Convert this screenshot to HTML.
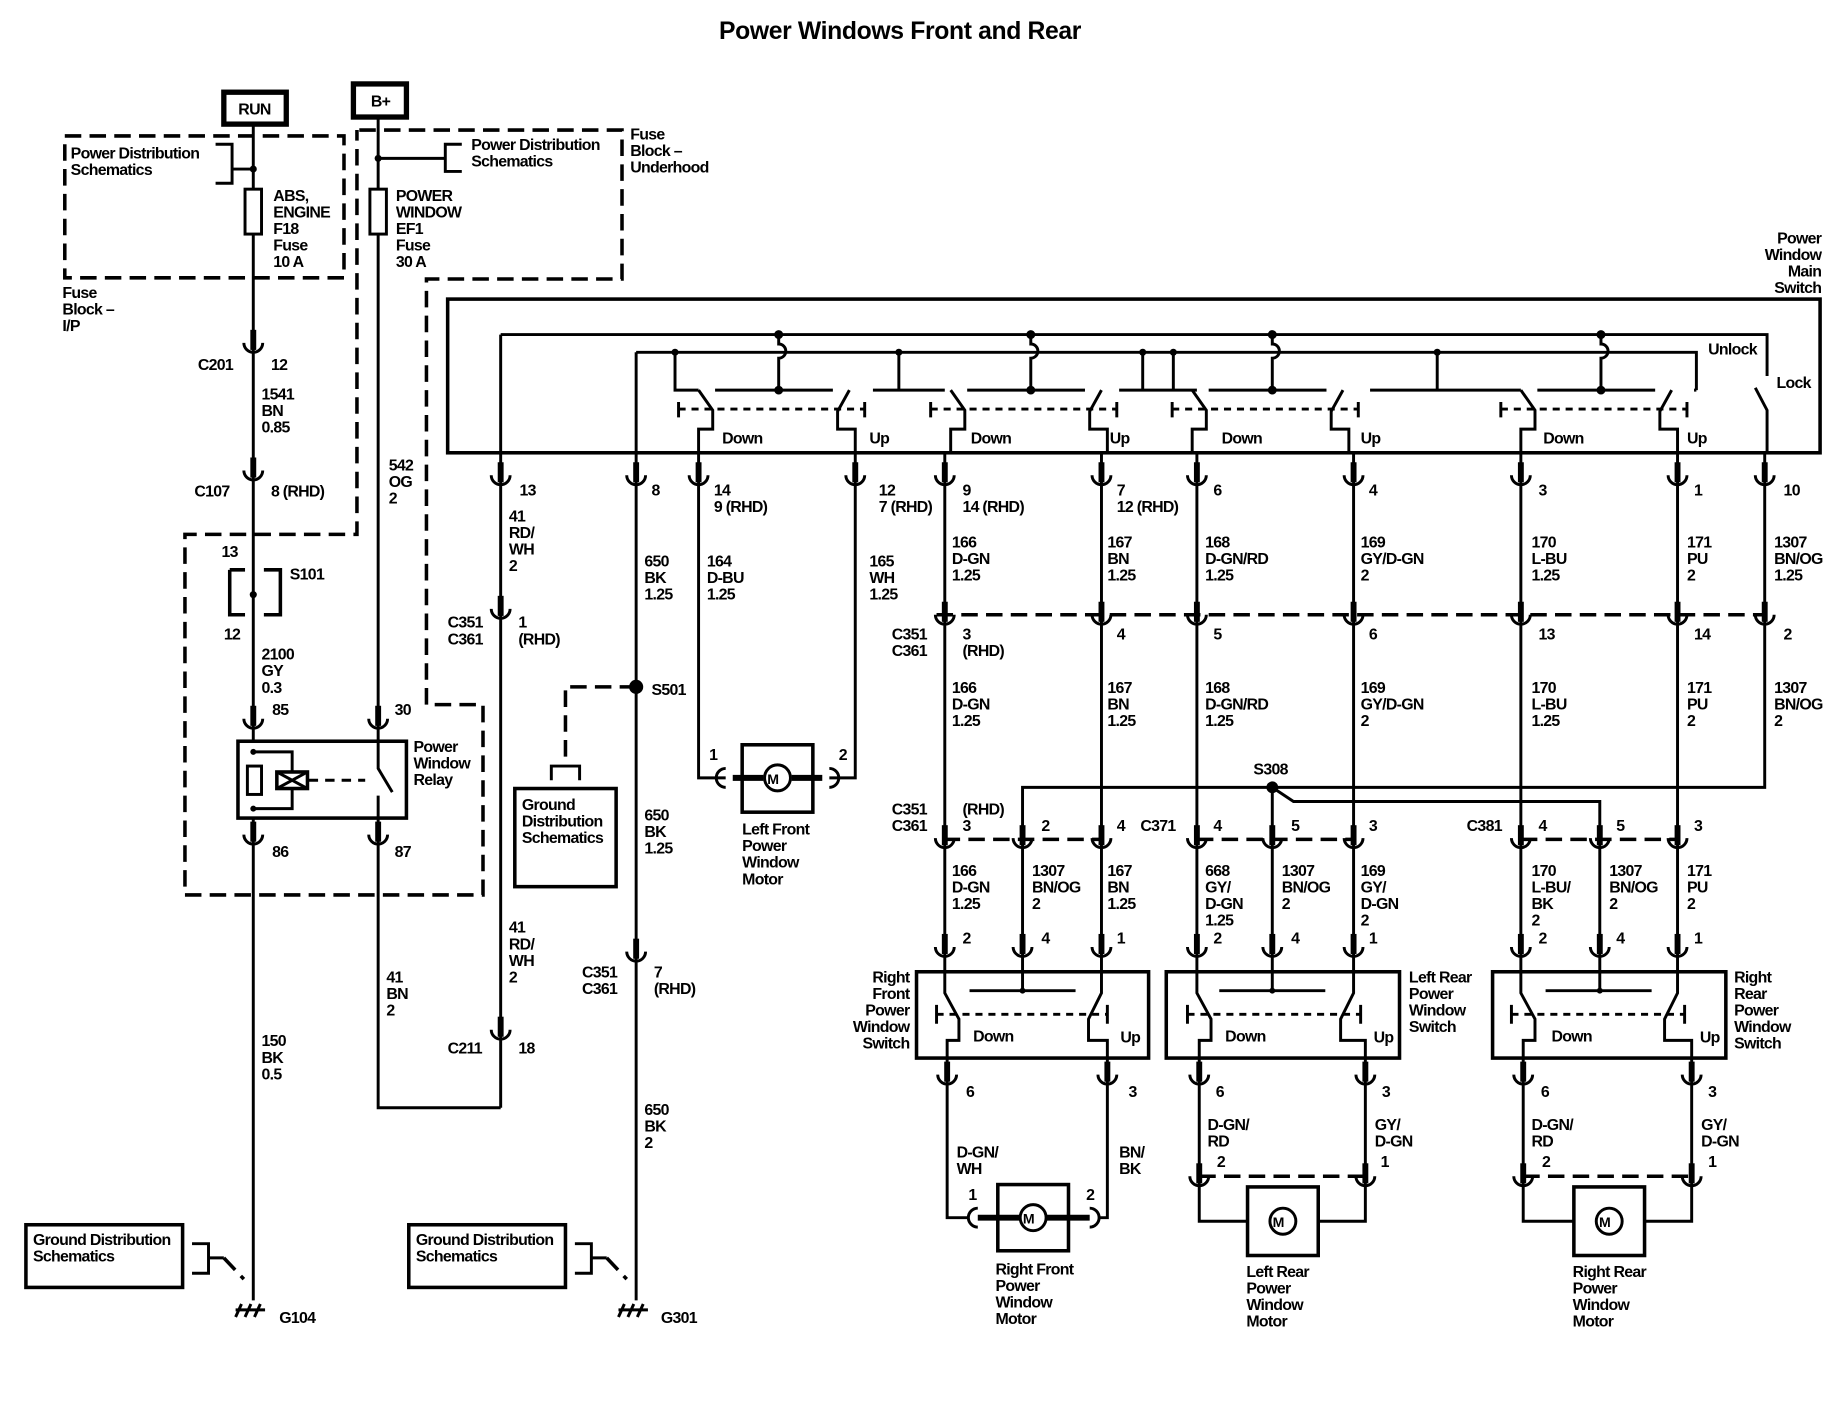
<!DOCTYPE html>
<html><head><meta charset="utf-8"><style>
html,body{margin:0;padding:0;background:#fff}
svg{display:block}
text{font-family:"Liberation Sans",Arial,sans-serif;font-size:13.5px;font-weight:bold;fill:#000;letter-spacing:-0.6px}
</style></head><body>
<svg width="1846" height="1408" viewBox="0 0 1567 1191" preserveAspectRatio="none" xmlns="http://www.w3.org/2000/svg">
<defs>
<g id="cup"><path d="M-8,-5 A8,8 0 0 0 8,-5" fill="none" stroke="#000" stroke-width="2.5"/><line x1="0" y1="-16" x2="0" y2="1" stroke="#000" stroke-width="5"/></g>
<g id="grp" fill="none" stroke="#000" stroke-width="2.5">
<path d="M0,330 L12,347 L12,363 L0,363 L0,383"/>
<path d="M14,330 L114,330"/>
<path d="M68,283 L68,291 A6,6 0 0 1 68,303 L68,330"/>
<circle cx="68" cy="283" r="2.5" fill="#000"/><circle cx="68" cy="330" r="2.5" fill="#000"/>
<path d="M128,330 L118,348 L118,363 L133,363 L133,383"/>
<path d="M-17,346 L141,346" stroke-dasharray="6 5"/>
<path d="M-17,340 V353 M141,340 V353"/>
</g>
</defs>
<rect width="1567" height="1191" fill="#fff"/>
<text x="764" y="33" text-anchor="middle" style="font-size:21px;letter-spacing:-0.3px">Power Windows  Front and Rear</text>

<g fill="none" stroke="#000" stroke-width="2.5">
<g stroke-width="3" stroke-dasharray="14 7">
<rect x="55" y="115" width="237" height="120"/>
<path d="M305,110 H528 V236 H362 V596 H410 V757 H157 V452 H303 V110"/>
<path d="M540,581 H480 V640"/>
<path d="M190,1064 L207,1082"/>
<path d="M515,1064 L532,1082"/>
<path d="M795,520 H1498"/>
<path d="M801,710 H933 M1016,710 H1148 M1291,710 H1424"/>
<path d="M1018,995 H1159 M1293,995 H1436"/>
<path d="M195,482 H208 M195,482 V520 H208 M224,482 H238 V520 H224" stroke-dasharray="none"/>
</g>
<rect x="190" y="78" width="53" height="27" stroke-width="4.5"/>
<rect x="300" y="71" width="45" height="28" stroke-width="4.5"/>
<rect x="380" y="253" width="1165" height="130" stroke-width="3"/>
<rect x="202" y="627" width="143" height="65" stroke-width="3"/>
<rect x="437" y="667" width="86" height="83" stroke-width="3"/>
<rect x="22" y="1036" width="133" height="53" stroke-width="3"/>
<rect x="347" y="1036" width="133" height="53" stroke-width="3"/>
<rect x="630" y="630" width="60" height="57" stroke-width="3"/>
<rect x="847" y="1002" width="60" height="56" stroke-width="3"/>
<rect x="1059" y="1004" width="60" height="58" stroke-width="3"/>
<rect x="1336" y="1004" width="60" height="58" stroke-width="3"/>
<rect x="778" y="822" width="197" height="73" stroke-width="3"/>
<rect x="990" y="822" width="198" height="73" stroke-width="3"/>
<rect x="1267" y="822" width="198" height="73" stroke-width="3"/>
<path d="M215,105 V627 M215,692 V1100"/>
<path d="M183,122 H197 V155 H183 M197,143 H215"/>
<rect x="208" y="160" width="14" height="38" fill="#fff"/>
<path d="M321,99 V627 M321,692 V937 H425"/>
<path d="M321,134 H378 M392,122 H378 V145 H392"/>
<rect x="314" y="160" width="14" height="38" fill="#fff"/>
<path d="M215,636 H248 V653 M215,684 H248 V667"/>
<rect x="210" y="648" width="12" height="24" fill="#fff"/>
<rect x="235" y="653" width="26" height="14" stroke-width="3"/>
<path d="M235,653 L261,667 M261,653 L235,667"/>
<path d="M262,660 H310" stroke-dasharray="8 6"/>
<path d="M321,627 V650 L333,670 M321,673 V692"/>
<path d="M163,1052 H177 V1077 H163 M177,1064 H190"/>
<path d="M488,1052 H502 V1077 H488 M502,1064 H515"/>
<path d="M200,1108 L225,1108 M200,1114 L205,1103 M208,1114 L213,1103 M216,1114 L221,1103"/>
<path d="M525,1108 L550,1108 M525,1114 L530,1103 M533,1114 L538,1103 M541,1114 L546,1103"/>
<path d="M468,660 V648 H492 V660"/>
<path d="M425,283 V937"/>
<path d="M540,298 V1100"/>
<path d="M593,383 V658 H616"/>
<path d="M726,383 V658 H704"/>
<path d="M802,383 V822 M935,383 V822 M1016,383 V822 M1149,383 V822 M1291,383 V822 M1424,383 V822"/>
<path d="M1498,383 V666 H868 V822"/>
<path d="M1080,666 V822 M1080,666 L1098,678 H1358 V822"/>
<path d="M425,283 H1500 V318 M1490,328 L1500,347 V383"/>
<path d="M540,298 H1440 V330"/>
<path d="M573,298 V330 H593"/>
<path d="M741,330 H802 M763,298 V330"/>
<path d="M950,330 H1016 M970,298 V330 M996,298 V330"/>
<path d="M1163,330 H1291 M1220,298 V330"/>
<path d="M1438,330 H1440"/>
<path d="M802,822 V840 L814,862 V880 H804 V895 M868,822 V838 M823,838 H913 M935,822 V840 L924,862 V880 H940 V895"/>
<path d="M1016,822 V840 L1028,862 V880 H1018 V895 M1080,822 V838 M1035,838 H1125 M1149,822 V840 L1138,862 V880 H1159 V895"/>
<path d="M1291,822 V840 L1303,862 V880 H1293 V895 M1358,822 V838 M1312,838 H1402 M1424,822 V840 L1413,862 V880 H1436 V895"/>
<g stroke-dasharray="6 5"><path d="M795,858 H940 M1008,858 H1155 M1283,858 H1430"/></g>
<path d="M795,850 V866 M940,850 V866 M1008,850 V866 M1155,850 V866 M1283,850 V866 M1430,850 V866"/>
<path d="M804,895 V1030 H822 M940,895 V1030 H932"/>
<path d="M1018,895 V1033 H1059 M1159,895 V1033 H1119"/>
<path d="M1293,895 V1033 H1336 M1436,895 V1033 H1396"/>
<path d="M622,658 H648 M672,658 H698" stroke-width="5"/>
<path d="M830,1030 H866 M888,1030 H925" stroke-width="5"/>
<path d="M616,650 A8,8 0 0 0 616,666 M704,650 A8,8 0 0 1 704,666"/>
<path d="M830,1022 A8,8 0 0 0 830,1038 M925,1022 A8,8 0 0 1 925,1038"/>
<circle cx="660" cy="658" r="11" fill="#fff"/>
<circle cx="877" cy="1030" r="11" fill="#fff"/>
<circle cx="1089" cy="1033" r="11" fill="#fff"/>
<circle cx="1366" cy="1033" r="11" fill="#fff"/>
</g>
<use href="#grp" x="593"/><use href="#grp" x="807"/><use href="#grp" x="1012"/><use href="#grp" x="1291"/>
<g fill="#000"><circle cx="215" cy="143" r="3"/><circle cx="321" cy="134" r="3"/><circle cx="215" cy="503" r="3"/><circle cx="540" cy="581" r="6"/><circle cx="1080" cy="666" r="5"/>
<circle cx="573" cy="298" r="3"/><circle cx="763" cy="298" r="3"/><circle cx="970" cy="298" r="3"/><circle cx="996" cy="298" r="3"/><circle cx="1220" cy="298" r="3"/><circle cx="215" cy="636" r="2.5"/><circle cx="215" cy="684" r="2.5"/><circle cx="868" cy="838" r="2.5"/><circle cx="1080" cy="838" r="2.5"/><circle cx="1358" cy="838" r="2.5"/></g>
<use href="#cup" x="215" y="295"/><use href="#cup" x="215" y="403"/><use href="#cup" x="215" y="613"/><use href="#cup" x="321" y="613"/><use href="#cup" x="215" y="711"/><use href="#cup" x="321" y="711"/>
<use href="#cup" x="425" y="407"/><use href="#cup" x="540" y="407"/><use href="#cup" x="593" y="407"/><use href="#cup" x="726" y="407"/><use href="#cup" x="802" y="407"/><use href="#cup" x="935" y="407"/><use href="#cup" x="1016" y="407"/><use href="#cup" x="1149" y="407"/><use href="#cup" x="1291" y="407"/><use href="#cup" x="1424" y="407"/><use href="#cup" x="1498" y="407"/>
<use href="#cup" x="425" y="520"/><use href="#cup" x="425" y="876"/><use href="#cup" x="540" y="810"/>
<use href="#cup" x="802" y="525"/><use href="#cup" x="935" y="525"/><use href="#cup" x="1016" y="525"/><use href="#cup" x="1149" y="525"/><use href="#cup" x="1291" y="525"/><use href="#cup" x="1424" y="525"/><use href="#cup" x="1498" y="525"/>
<use href="#cup" x="802" y="714"/><use href="#cup" x="868" y="714"/><use href="#cup" x="935" y="714"/><use href="#cup" x="1016" y="714"/><use href="#cup" x="1080" y="714"/><use href="#cup" x="1149" y="714"/><use href="#cup" x="1291" y="714"/><use href="#cup" x="1358" y="714"/><use href="#cup" x="1424" y="714"/>
<use href="#cup" x="802" y="806"/><use href="#cup" x="868" y="806"/><use href="#cup" x="935" y="806"/><use href="#cup" x="1016" y="806"/><use href="#cup" x="1080" y="806"/><use href="#cup" x="1149" y="806"/><use href="#cup" x="1291" y="806"/><use href="#cup" x="1358" y="806"/><use href="#cup" x="1424" y="806"/>
<use href="#cup" x="804" y="914"/><use href="#cup" x="940" y="914"/><use href="#cup" x="1018" y="914"/><use href="#cup" x="1159" y="914"/><use href="#cup" x="1293" y="914"/><use href="#cup" x="1436" y="914"/>
<use href="#cup" x="1018" y="1000"/><use href="#cup" x="1159" y="1000"/><use href="#cup" x="1293" y="1000"/><use href="#cup" x="1436" y="1000"/>

<text x="216" y="97" text-anchor="middle">RUN</text>
<text x="323" y="90" text-anchor="middle">B+</text>
<text x="60" y="134">Power Distribution</text><text x="60" y="148">Schematics</text>
<text x="232" y="170">ABS,</text><text x="232" y="184">ENGINE</text><text x="232" y="198">F18</text><text x="232" y="212">Fuse</text><text x="232" y="226">10 A</text>
<text x="53" y="252">Fuse</text><text x="53" y="266">Block –</text><text x="53" y="280">I/P</text>
<text x="400" y="127">Power Distribution</text><text x="400" y="141">Schematics</text>
<text x="535" y="118">Fuse</text><text x="535" y="132">Block –</text><text x="535" y="146">Underhood</text>
<text x="336" y="170">POWER</text><text x="336" y="184">WINDOW</text><text x="336" y="198">EF1</text><text x="336" y="212">Fuse</text><text x="336" y="226">30 A</text>
<text x="168" y="313">C201</text><text x="230" y="313">12</text>
<text x="222" y="338">1541</text><text x="222" y="352">BN</text><text x="222" y="366">0.85</text>
<text x="165" y="420">C107</text><text x="230" y="420">8 (RHD)</text>
<text x="330" y="398">542</text><text x="330" y="412">OG</text><text x="330" y="426">2</text>
<text x="188" y="471">13</text><text x="246" y="490">S101</text><text x="190" y="541">12</text>
<text x="222" y="558">2100</text><text x="222" y="572">GY</text><text x="222" y="586">0.3</text>
<text x="231" y="605">85</text><text x="335" y="605">30</text>
<text x="351" y="636">Power</text><text x="351" y="650">Window</text><text x="351" y="664">Relay</text>
<text x="231" y="725">86</text><text x="335" y="725">87</text>
<text x="222" y="885">150</text><text x="222" y="899">BK</text><text x="222" y="913">0.5</text>
<text x="28" y="1053">Ground Distribution</text><text x="28" y="1067">Schematics</text>
<text x="237" y="1119">G104</text>
<text x="353" y="1053">Ground Distribution</text><text x="353" y="1067">Schematics</text>
<text x="561" y="1119">G301</text>
<text x="328" y="831">41</text><text x="328" y="845">BN</text><text x="328" y="859">2</text>
<text x="441" y="419">13</text>
<text x="432" y="441">41</text><text x="432" y="455">RD/</text><text x="432" y="469">WH</text><text x="432" y="483">2</text>
<text x="380" y="531">C351</text><text x="380" y="545">C361</text><text x="440" y="531">1</text><text x="440" y="545">(RHD)</text>
<text x="432" y="789">41</text><text x="432" y="803">RD/</text><text x="432" y="817">WH</text><text x="432" y="831">2</text>
<text x="380" y="891">C211</text><text x="440" y="891">18</text>
<text x="553" y="419">8</text>
<text x="547" y="479">650</text><text x="547" y="493">BK</text><text x="547" y="507">1.25</text>
<text x="553" y="588">S501</text>
<text x="443" y="685">Ground</text><text x="443" y="699">Distribution</text><text x="443" y="713">Schematics</text>
<text x="547" y="694">650</text><text x="547" y="708">BK</text><text x="547" y="722">1.25</text>
<text x="494" y="827">C351</text><text x="494" y="841">C361</text><text x="555" y="827">7</text><text x="555" y="841">(RHD)</text>
<text x="547" y="943">650</text><text x="547" y="957">BK</text><text x="547" y="971">2</text>
<text x="606" y="419">14</text><text x="606" y="433">9 (RHD)</text>
<text x="600" y="479">164</text><text x="600" y="493">D-BU</text><text x="600" y="507">1.25</text>
<text x="746" y="419">12</text><text x="746" y="433">7 (RHD)</text>
<text x="738" y="479">165</text><text x="738" y="493">WH</text><text x="738" y="507">1.25</text>
<text x="602" y="643">1</text><text x="712" y="643">2</text>
<text x="656" y="663" text-anchor="middle" style="font-size:12px">M</text>
<text x="630" y="706">Left Front</text><text x="630" y="720">Power</text><text x="630" y="734">Window</text><text x="630" y="748">Motor</text>
<text x="1546" y="206" text-anchor="end">Power</text><text x="1546" y="220" text-anchor="end">Window</text><text x="1546" y="234" text-anchor="end">Main</text><text x="1546" y="248" text-anchor="end">Switch</text>
<text x="1450" y="300">Unlock</text><text x="1508" y="328">Lock</text>
<text x="613" y="375">Down</text><text x="738" y="375">Up</text>
<text x="824" y="375">Down</text><text x="942" y="375">Up</text>
<text x="1037" y="375">Down</text><text x="1155" y="375">Up</text>
<text x="1310" y="375">Down</text><text x="1432" y="375">Up</text>
<text x="817" y="419">9</text><text x="817" y="433">14 (RHD)</text>
<text x="948" y="419">7</text><text x="948" y="433">12 (RHD)</text>
<text x="1030" y="419">6</text><text x="1162" y="419">4</text><text x="1306" y="419">3</text><text x="1438" y="419">1</text><text x="1514" y="419">10</text>
<text x="808" y="463">166</text><text x="808" y="477">D-GN</text><text x="808" y="491">1.25</text>
<text x="940" y="463">167</text><text x="940" y="477">BN</text><text x="940" y="491">1.25</text>
<text x="1023" y="463">168</text><text x="1023" y="477">D-GN/RD</text><text x="1023" y="491">1.25</text>
<text x="1155" y="463">169</text><text x="1155" y="477">GY/D-GN</text><text x="1155" y="491">2</text>
<text x="1300" y="463">170</text><text x="1300" y="477">L-BU</text><text x="1300" y="491">1.25</text>
<text x="1432" y="463">171</text><text x="1432" y="477">PU</text><text x="1432" y="491">2</text>
<text x="1506" y="463">1307</text><text x="1506" y="477">BN/OG</text><text x="1506" y="491">1.25</text>
<text x="757" y="541">C351</text><text x="757" y="555">C361</text><text x="817" y="541">3</text><text x="817" y="555">(RHD)</text>
<text x="948" y="541">4</text><text x="1030" y="541">5</text><text x="1162" y="541">6</text><text x="1306" y="541">13</text><text x="1438" y="541">14</text><text x="1514" y="541">2</text>
<text x="808" y="586">166</text><text x="808" y="600">D-GN</text><text x="808" y="614">1.25</text>
<text x="940" y="586">167</text><text x="940" y="600">BN</text><text x="940" y="614">1.25</text>
<text x="1023" y="586">168</text><text x="1023" y="600">D-GN/RD</text><text x="1023" y="614">1.25</text>
<text x="1155" y="586">169</text><text x="1155" y="600">GY/D-GN</text><text x="1155" y="614">2</text>
<text x="1300" y="586">170</text><text x="1300" y="600">L-BU</text><text x="1300" y="614">1.25</text>
<text x="1432" y="586">171</text><text x="1432" y="600">PU</text><text x="1432" y="614">2</text>
<text x="1506" y="586">1307</text><text x="1506" y="600">BN/OG</text><text x="1506" y="614">2</text>
<text x="1064" y="655">S308</text>
<text x="757" y="689">C351</text><text x="757" y="703">C361</text><text x="817" y="689">(RHD)</text><text x="817" y="703">3</text>
<text x="884" y="703">2</text><text x="948" y="703">4</text><text x="968" y="703">C371</text><text x="1030" y="703">4</text><text x="1096" y="703">5</text><text x="1162" y="703">3</text>
<text x="1245" y="703">C381</text><text x="1306" y="703">4</text><text x="1372" y="703">5</text><text x="1438" y="703">3</text>
<text x="808" y="741">166</text><text x="808" y="755">D-GN</text><text x="808" y="769">1.25</text>
<text x="876" y="741">1307</text><text x="876" y="755">BN/OG</text><text x="876" y="769">2</text>
<text x="940" y="741">167</text><text x="940" y="755">BN</text><text x="940" y="769">1.25</text>
<text x="1023" y="741">668</text><text x="1023" y="755">GY/</text><text x="1023" y="769">D-GN</text><text x="1023" y="783">1.25</text>
<text x="1088" y="741">1307</text><text x="1088" y="755">BN/OG</text><text x="1088" y="769">2</text>
<text x="1155" y="741">169</text><text x="1155" y="755">GY/</text><text x="1155" y="769">D-GN</text><text x="1155" y="783">2</text>
<text x="1300" y="741">170</text><text x="1300" y="755">L-BU/</text><text x="1300" y="769">BK</text><text x="1300" y="783">2</text>
<text x="1366" y="741">1307</text><text x="1366" y="755">BN/OG</text><text x="1366" y="769">2</text>
<text x="1432" y="741">171</text><text x="1432" y="755">PU</text><text x="1432" y="769">2</text>
<text x="817" y="798">2</text><text x="884" y="798">4</text><text x="948" y="798">1</text>
<text x="1030" y="798">2</text><text x="1096" y="798">4</text><text x="1162" y="798">1</text>
<text x="1306" y="798">2</text><text x="1372" y="798">4</text><text x="1438" y="798">1</text>
<text x="772" y="831" text-anchor="end">Right</text><text x="772" y="845" text-anchor="end">Front</text><text x="772" y="859" text-anchor="end">Power</text><text x="772" y="873" text-anchor="end">Window</text><text x="772" y="887" text-anchor="end">Switch</text>
<text x="1196" y="831">Left Rear</text><text x="1196" y="845">Power</text><text x="1196" y="859">Window</text><text x="1196" y="873">Switch</text>
<text x="1472" y="831">Right</text><text x="1472" y="845">Rear</text><text x="1472" y="859">Power</text><text x="1472" y="873">Window</text><text x="1472" y="887">Switch</text>
<text x="826" y="881">Down</text><text x="951" y="882">Up</text>
<text x="1040" y="881">Down</text><text x="1166" y="882">Up</text>
<text x="1317" y="881">Down</text><text x="1443" y="882">Up</text>
<text x="820" y="928">6</text><text x="958" y="928">3</text><text x="1032" y="928">6</text><text x="1173" y="928">3</text><text x="1308" y="928">6</text><text x="1450" y="928">3</text>
<text x="812" y="979">D-GN/</text><text x="812" y="993">WH</text><text x="950" y="979">BN/</text><text x="950" y="993">BK</text>
<text x="822" y="1015">1</text><text x="922" y="1015">2</text>
<text x="873" y="1035" text-anchor="middle" style="font-size:12px">M</text>
<text x="845" y="1078">Right Front</text><text x="845" y="1092">Power</text><text x="845" y="1106">Window</text><text x="845" y="1120">Motor</text>
<text x="1025" y="956">D-GN/</text><text x="1025" y="970">RD</text><text x="1033" y="987">2</text>
<text x="1167" y="956">GY/</text><text x="1167" y="970">D-GN</text><text x="1172" y="987">1</text>
<text x="1085" y="1038" text-anchor="middle" style="font-size:12px">M</text>
<text x="1058" y="1080">Left Rear</text><text x="1058" y="1094">Power</text><text x="1058" y="1108">Window</text><text x="1058" y="1122">Motor</text>
<text x="1300" y="956">D-GN/</text><text x="1300" y="970">RD</text><text x="1309" y="987">2</text>
<text x="1444" y="956">GY/</text><text x="1444" y="970">D-GN</text><text x="1450" y="987">1</text>
<text x="1362" y="1038" text-anchor="middle" style="font-size:12px">M</text>
<text x="1335" y="1080">Right Rear</text><text x="1335" y="1094">Power</text><text x="1335" y="1108">Window</text><text x="1335" y="1122">Motor</text>
</svg>
</body></html>
